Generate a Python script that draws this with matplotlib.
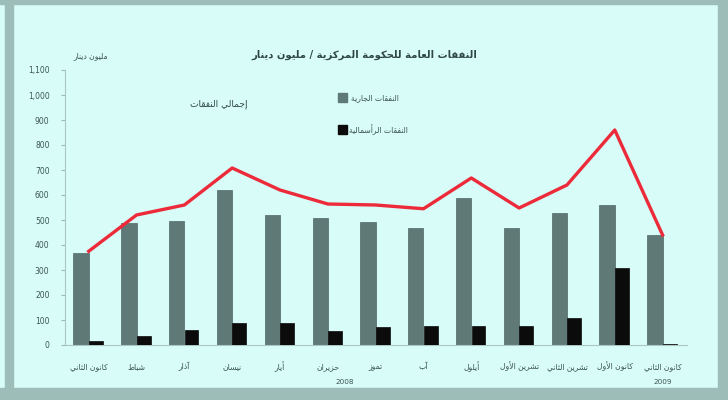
import unicodedata
import matplotlib
matplotlib.use("Agg")
import matplotlib.pyplot as plt
from matplotlib.patches import Rectangle

# ---- data ----
months = ["كانون الثاني", "شباط", "آذار", "نيسان", "أيار", "حزيران", "تموز",
          "آب", "أيلول", "تشرين الأول", "تشرين الثاني", "كانون الأول", "كانون الثاني"]
current_exp = [370, 490, 495, 620, 520, 508, 492, 470, 590, 470, 528, 560, 440]
capital_exp = [18, 36, 60, 88, 88, 56, 72, 76, 76, 76, 108, 308, 5]
total_exp = [375, 520, 560, 708, 620, 564, 560, 545, 668, 548, 640, 860, 440]
yticks = list(range(0, 1101, 100))

title_txt = "النفقات العامة للحكومة المركزية / مليون دينار"
unit_txt = "مليون دينار"
lbl_current = "النفقات الجارية"
lbl_capital = "النفقات الرأسمالية"
lbl_total = "إجمالي النفقات"

# ---- crude arabic shaping (matplotlib has no bidi / joining) ----
NO_LEFT = set("اأإآدذرزوؤةى")
ALEFS = {"ا": "", "أ": " WITH HAMZA ABOVE", "إ": " WITH HAMZA BELOW", "آ": " WITH MADDA ABOVE"}


def is_ar(c):
    return "\u0621" <= c <= "\u064a"


def form(c, f):
    try:
        return unicodedata.lookup(unicodedata.name(c) + " " + f + " FORM")
    except KeyError:
        return c


def ar(s):
    out = []
    i = 0
    while i < len(s):
        c = s[i]
        if not is_ar(c):
            out.append({"(": ")", ")": "("}.get(c, c))
            i += 1
            continue
        prev = s[i - 1] if i > 0 else ""
        join_prev = is_ar(prev) and prev not in NO_LEFT
        nxt = s[i + 1] if i + 1 < len(s) else ""
        if c == "ل" and nxt in ALEFS:
            f = "FINAL" if join_prev else "ISOLATED"
            out.append(unicodedata.lookup("ARABIC LIGATURE LAM WITH ALEF" + ALEFS[nxt] + " " + f + " FORM"))
            i += 2
            continue
        join_next = is_ar(nxt) and c not in NO_LEFT
        if join_prev and join_next:
            out.append(form(c, "MEDIAL"))
        elif join_prev:
            out.append(form(c, "FINAL"))
        elif join_next:
            out.append(form(c, "INITIAL"))
        else:
            out.append(form(c, "ISOLATED"))
        i += 1
    return "".join(out[::-1])


plt.rcParams["font.family"] = ["DejaVu Sans"]
bg = "#d8fcf7"
frame = "#9dbdb9"

fig = plt.figure(figsize=(7.28, 4.0), dpi=100, facecolor=bg)
# outer frame bands
for r in [(0, 0.99, 1, 0.01), (0.007, 0, 0.011, 1), (0.986, 0, 0.014, 1), (0, 0, 1, 0.03)]:
    fig.patches.append(Rectangle(r[:2], r[2], r[3], transform=fig.transFigure,
                                 color=frame, zorder=0))

ax = fig.add_axes([0.089, 0.1375, 0.854, 0.6875])
ax.set_facecolor(bg)
x = list(range(len(months)))

ax.bar([i - 0.16 for i in x], current_exp, width=0.32, color="#5f7977",
       edgecolor="#4e6765", linewidth=0.5, zorder=2)
ax.bar([i + 0.15 for i in x], capital_exp, width=0.29, color="#0b0b0b",
       edgecolor="#0b0b0b", linewidth=0.5, zorder=3)
ax.plot(x, total_exp, color="#ec2a3a", linewidth=2.4, zorder=4)

ax.set_xlim(-0.5, 12.5)
ax.set_ylim(0, 1100)
ax.set_yticks(yticks)
ax.set_yticklabels([f"{v:,}" for v in yticks], fontsize=5.5, color="#3c5553")
ax.set_xticks(x)
ax.set_xticklabels([ar(m) for m in months], fontsize=5.5, color="#3c5553")
ax.tick_params(axis="both", length=3, color="#9ab8b4", pad=8)
ax.tick_params(axis="x", length=0, pad=12)
for s in ["top", "right"]:
    ax.spines[s].set_visible(False)
ax.spines["left"].set_color("#a9c6c2")
ax.spines["bottom"].set_color("#a9c6c2")

# year labels under june and the last january
ax.text(5.35, -138, "2008", fontsize=5.2, color="#3c5553", ha="center", va="top")
ax.text(12, -138, "2009", fontsize=5.2, color="#3c5553", ha="center", va="top")

fig.text(0.5, 0.855, ar(title_txt), fontsize=7.2, fontweight="bold", color="#2f4745", ha="center")
fig.text(0.125, 0.855, ar(unit_txt), fontsize=5.5, color="#3c5553", ha="center")
fig.text(0.30, 0.74, ar(lbl_total), fontsize=6.5, color="#2f4745", ha="center", va="center")

# legend squares + labels
fig.patches.append(Rectangle((0.464, 0.745), 0.012, 0.022, transform=fig.transFigure,
                             color="#5f7977", zorder=3))
fig.text(0.515, 0.756, ar(lbl_current), fontsize=5.5, color="#3c5553", ha="center", va="center")
fig.patches.append(Rectangle((0.464, 0.665), 0.012, 0.022, transform=fig.transFigure,
                             color="#0b0b0b", zorder=3))
fig.text(0.52, 0.676, ar(lbl_capital), fontsize=5.5, color="#3c5553", ha="center", va="center")

fig.savefig("out.png", dpi=100, facecolor=bg)
